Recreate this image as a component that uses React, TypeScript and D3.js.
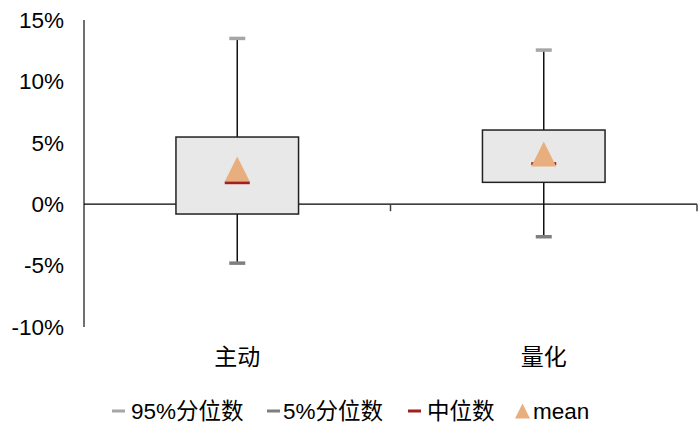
import React from "react";
import * as d3 from "d3";

const categories = ["主动", "量化"];
const p95 = [13.5, 12.55];
const q3 = [5.47, 6.04];
const median = [1.75, 3.3];
const q1 = [-0.8, 1.78];
const p5 = [-4.8, -2.65];
const mean = [2.87, 4.09];
const yTicks = [-10, -5, 0, 5, 10, 15];
const legendLabels = ["95%分位数", "5%分位数", "中位数", "mean"];

const W = 700;
const H = 445;
const left = 84;
const right = 697;
const top = 20;
const bottom = 327;

const C_P95 = "#A6A6A6";
const C_P5 = "#7F7F7F";
const C_MED = "#A31F1F";
const C_MEAN = "#E9AE7E";

function tri(cx: number, cy: number, w: number, h: number) {
  return `M${cx},${cy - h / 2}L${cx + w / 2},${cy + h / 2}L${cx - w / 2},${cy + h / 2}Z`;
}

export default function App() {
  const y = d3.scaleLinear().domain([-10, 15]).range([bottom, top]);
  const x = d3.scaleBand().domain(categories).range([left, right]).padding(0);
  const bw = x.bandwidth() * 0.4;
  const y0 = y(0);
  const font = "'Liberation Sans', 'Noto Sans CJK SC', Arial, sans-serif";

  const legendX = [112, 267, 408, 515];
  const legendGap = [19, 16, 19, 18];

  return (
    <svg width={W} height={H} style={{ position: "absolute", left: 0, top: 0, background: "#fff" }}>
      {/* y axis */}
      <line x1={left} x2={left} y1={top} y2={bottom} stroke="#404040" strokeWidth={1.5} />
      {yTicks.map((t) => (
        <text key={t} x={64} y={y(t)} dy="0.35em" textAnchor="end" fontFamily={font} fontSize={22.5} fill="#000">
          {t}%
        </text>
      ))}
      {/* zero line with category ticks */}
      <line x1={left} x2={right} y1={y0} y2={y0} stroke="#000" strokeWidth={1.3} />
      {categories.map((c) => (
        <line key={c} x1={(x(c) as number) + x.bandwidth()} x2={(x(c) as number) + x.bandwidth()} y1={y0} y2={y0 + 7} stroke="#404040" strokeWidth={1.5} />
      ))}
      {categories.map((c, i) => {
        const cx = (x(c) as number) + x.bandwidth() / 2;
        return (
          <g key={c}>
            <line x1={cx} x2={cx} y1={y(p95[i])} y2={y(p5[i])} stroke="#111" strokeWidth={1.5} />
            <rect x={cx - bw / 2} y={y(q3[i])} width={bw} height={y(q1[i]) - y(q3[i])} fill="#E8E8E8" stroke="#222" strokeWidth={1.5} />
            <rect x={cx - 8} y={y(p95[i]) - 1.75} width={16} height={3.5} fill={C_P95} />
            <rect x={cx - 8} y={y(p5[i]) - 1.75} width={16} height={3.5} fill={C_P5} />
            <rect x={cx - 12.5} y={y(median[i]) - 1.5} width={25} height={3} fill={C_MED} />
            <path d={tri(cx, y(mean[i]), 25, 25)} fill={C_MEAN} />
            <text x={cx} y={357} dy="0.35em" textAnchor="middle" fontFamily={font} fontSize={23} fill="#000">
              {c}
            </text>
          </g>
        );
      })}
      {/* legend */}
      {legendLabels.map((l, i) => {
        const lx = legendX[i];
        const ly = 411;
        return (
          <g key={l}>
            {i < 3 ? (
              <rect x={lx} y={ly - 1.5} width={13} height={3} fill={[C_P95, C_P5, C_MED][i]} />
            ) : (
              <path d={tri(lx + 7.5, ly, 15, 15)} fill={C_MEAN} />
            )}
            <text x={lx + legendGap[i]} y={ly} dy="0.35em" fontFamily={font} fontSize={22.5} fill="#000">
              {l}
            </text>
          </g>
        );
      })}
    </svg>
  );
}
